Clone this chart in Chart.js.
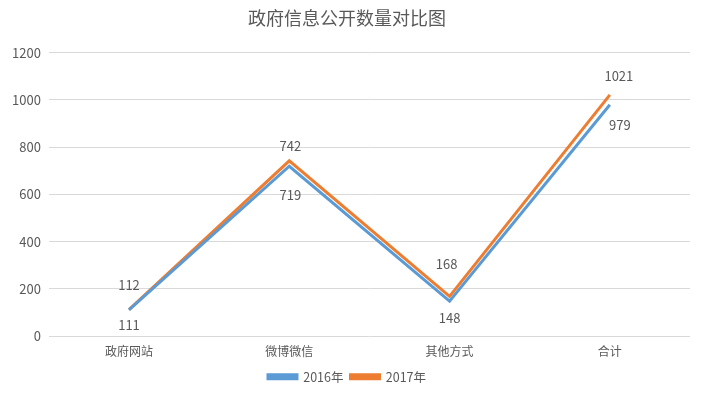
<!DOCTYPE html>
<html>
<head>
<meta charset="utf-8">
<script src="https://cdn.jsdelivr.net/npm/chart.js@4"></script>
<style>
  html, body { margin: 0; padding: 0; background: #fff; }
  #wrap { width: 705px; height: 398px; position: relative; }
</style>
</head>
<body>
<div id="wrap"><canvas id="chart"></canvas></div>
<script>
// chart data
const categories = ['政府网站', '微博微信', '其他方式', '合计'];
const values2016 = [111, 719, 148, 979];
const values2017 = [112, 742, 168, 1021];
const yTicks = [0, 200, 400, 600, 800, 1000, 1200];

const FONT = '"Noto Sans CJK SC", "Noto Sans", sans-serif';
const TEXT = '#595959';

// value labels, nudged per point like the spreadsheet placed them
const valueLabels = {
  id: 'valueLabels',
  afterDatasetsDraw(chart) {
    const ctx = chart.ctx;
    ctx.save();
    ctx.font = '13px ' + FONT;
    ctx.fillStyle = TEXT;
    ctx.textAlign = 'center';
    ctx.textBaseline = 'middle';
    chart.data.datasets.forEach((ds, i) => {
      const meta = chart.getDatasetMeta(i);
      meta.data.forEach((pt, j) => {
        const off = ds.labelOffsets[j];
        ctx.fillText(String(ds.data[j]), pt.x + off[0], pt.y + off[1]);
      });
    });
    ctx.restore();
  }
};

new Chart(document.getElementById('chart'), {
  type: 'line',
  data: {
    labels: categories,
    datasets: [
      {
        label: '2016年',
        data: values2016,
        borderColor: '#5B9BD5',
        backgroundColor: '#5B9BD5',
        borderWidth: 3,
        pointRadius: 0,
        tension: 0,
        labelOffsets: [[0, 15], [1, 29], [0, 17], [10, 20]]
      },
      {
        label: '2017年',
        data: values2017,
        borderColor: '#ED7D31',
        backgroundColor: '#ED7D31',
        borderWidth: 3,
        pointRadius: 0,
        tension: 0,
        labelOffsets: [[0, -25], [1, -15], [-3, -32], [9, -19]]
      }
    ]
  },
  options: {
    responsive: true,
    maintainAspectRatio: false,
    animation: false,
    layout: { padding: { left: 4, right: 15, top: 5, bottom: 5 } },
    plugins: {
      title: {
        display: true,
        text: '政府信息公开数量对比图',
        color: TEXT,
        font: { family: FONT, size: 18, weight: 'normal' },
        padding: { top: 2, bottom: 24 }
      },
      legend: {
        position: 'bottom',
        labels: {
          color: TEXT,
          font: { family: FONT, size: 12.5 },
          boxWidth: 29,
          boxHeight: 4,
          padding: 7
        }
      },
      tooltip: { enabled: false }
    },
    scales: {
      x: {
        offset: true,
        grid: { display: false },
        border: { display: false },
        ticks: {
          color: TEXT,
          font: { family: FONT, size: 12 },
          padding: 0
        },
        afterFit(axis) { axis.height += 5; }
      },
      y: {
        min: 0,
        max: 1200,
        afterBuildTicks(axis) {
          axis.ticks = yTicks.map(v => ({ value: v }));
        },
        grid: { color: '#D9D9D9', drawTicks: false },
        border: { display: false },
        ticks: {
          color: TEXT,
          font: { family: FONT, size: 13 },
          padding: 8,
          callback: v => String(v)
        }
      }
    }
  },
  plugins: [valueLabels]
});
</script>
</body>
</html>
